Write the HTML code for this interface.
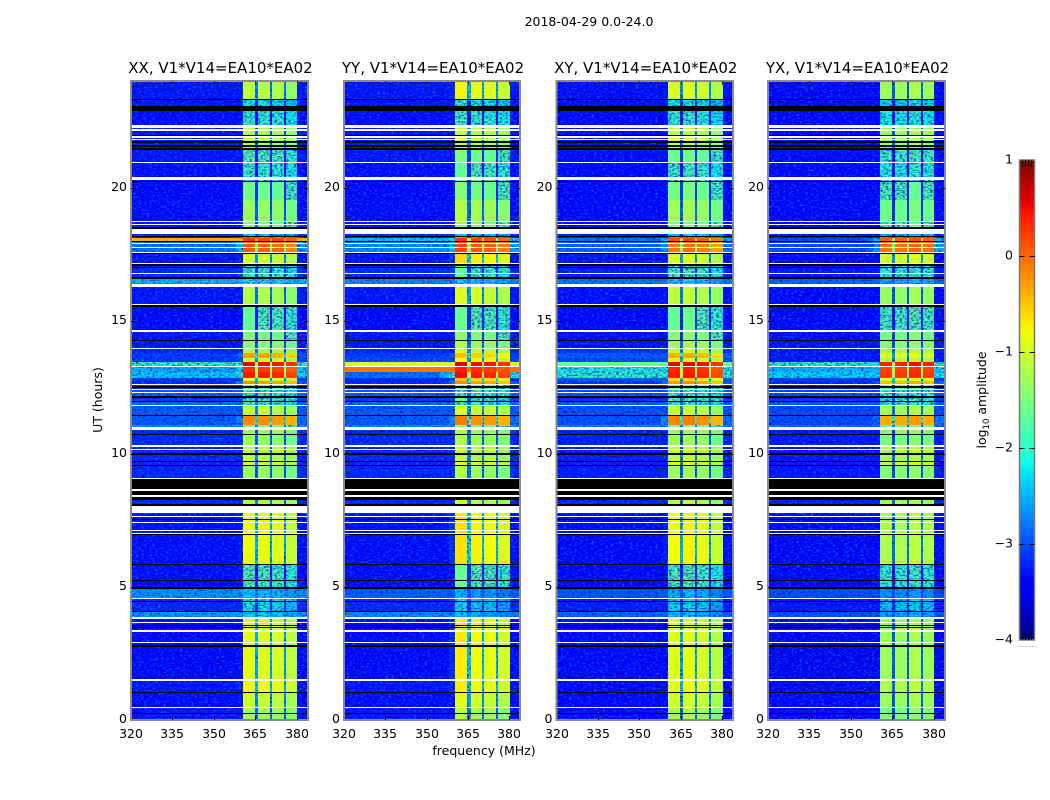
<!DOCTYPE html>
<html>
<head>
<meta charset="utf-8">
<title>2018-04-29 0.0-24.0</title>
<style>
html,body{margin:0;padding:0;background:#fff;}
svg{display:block;}
text{font-family:"DejaVu Sans","Liberation Sans",sans-serif;fill:#000;}
</style>
</head>
<body>
<svg id="figure" xmlns="http://www.w3.org/2000/svg" width="1050" height="800" viewBox="0 0 1050 800">
  <defs>
    <filter id="speckle-light" x="0" y="0" width="1" height="1" color-interpolation-filters="sRGB">
      <feTurbulence type="fractalNoise" baseFrequency="0.36 0.6" numOctaves="1" seed="4"/>
      <feColorMatrix type="matrix" values="0 0 0 0 0  0 0 0 0 0.5  0 0 0 0 1  3.4 0 0 0 -1.6"/>
    </filter>
    <filter id="speckle-dark" x="0" y="0" width="1" height="1" color-interpolation-filters="sRGB">
      <feTurbulence type="fractalNoise" baseFrequency="0.36 0.6" numOctaves="1" seed="11"/>
      <feColorMatrix type="matrix" values="0 0 0 0 0  0 0 0 0 0  0 0 0 0 0.72  0 3.4 0 0 -1.6"/>
    </filter>
  </defs>
  <text x="589" y="26" text-anchor="middle" font-size="12.5">2018-04-29 0.0-24.0</text>
  <text x="484" y="755" text-anchor="middle" font-size="12.5">frequency (MHz)</text>
  <text transform="translate(102 400) rotate(-90)" text-anchor="middle" font-size="12.5">UT (hours)</text>
  <text transform="translate(986 400) rotate(-90)" text-anchor="middle" font-size="12.5">log<tspan font-size="8.5" dy="3">10</tspan><tspan dy="-3"> amplitude</tspan></text>
  <g id="panels"></g>
  <g id="colorbar"></g>
</svg>
<script>
// Time segments (start hour of each segment, from the top of the plot downward)
const segmentTopHour = [24.00,23.29,22.87,22.35,21.41,20.92,20.24,19.53,18.70,18.25,18.10,17.99,17.54,17.09,16.56,16.26,15.59,14.61,14.23,13.93,13.78,13.60,13.45,13.30,13.07,12.85,12.73,12.62,12.43,12.13,11.94,11.79,11.46,11.08,10.97,10.29,9.73,9.58,9.09,8.11,7.74,5.82,5.26,4.96,4.58,4.06,3.79,1.50,1.05,0.45];
// log10 amplitude inside the receiver band for each segment
const inBandXX = [-1.2,-2.2,-2.0,-1.25,-1.8,-1.95,-1.65,-1.4,-1.6,-2.3,0.2,0,-1.05,-1.85,-2.25,-1.25,-1.75,-1.6,-1.5,-1.3,-0.4,-1.1,0.45,0.2,0.35,-0.95,-0.3,-1.6,-1.9,-1.8,-1.9,-1.15,-0.25,-1.6,-1.4,-1.2,-1.1,-1.4,-1.2,-1.0,-0.9,-1.8,-1.85,-2.4,-2.2,-2.3,-0.95,-0.85,-1.1,-1.35];
const inBandYY = [-0.85,-2.1,-1.9,-1.1,-1.6,-1.75,-1.55,-1.25,-1.5,-2.3,0.2,0.1,-0.7,-1.75,-2.3,-1.0,-1.7,-1.5,-1.3,-1.1,-0.55,-0.9,0.5,0.3,0.4,-0.6,-0.3,-1.5,-1.8,-1.75,-1.85,-1.0,-0.2,-1.5,-1.3,-1.15,-1.0,-1.3,-1.1,-0.9,-0.75,-1.7,-1.7,-2.5,-2.3,-2.4,-0.8,-0.8,-1.0,-1.25];
const inBandXY = [-1.0,-2.2,-2.0,-1.15,-1.65,-1.9,-1.6,-1.35,-1.6,-2.3,0.1,-0.1,-1.0,-1.8,-2.3,-1.15,-1.7,-1.5,-1.3,-1.1,-0.45,-1.0,0.5,0.3,0.35,-0.7,-0.3,-1.6,-1.9,-1.8,-1.9,-1.1,-0.2,-1.6,-1.35,-1.15,-1.05,-1.35,-1.15,-1.0,-0.85,-1.8,-1.8,-2.45,-2.3,-2.4,-0.95,-0.9,-1.05,-1.3];
const inBandYX = [-1.25,-2.2,-2.05,-1.25,-1.8,-1.95,-1.7,-1.55,-1.7,-2.4,0.1,0,-0.95,-1.85,-2.4,-1.3,-1.75,-1.5,-1.4,-1.2,-0.9,-1.2,0.45,0.25,0.3,-0.8,-0.4,-1.6,-1.9,-1.85,-1.95,-1.2,-0.3,-1.6,-1.45,-1.2,-1.1,-1.4,-1.2,-1.05,-1.15,-1.9,-1.9,-2.55,-2.3,-2.45,-1.25,-1.15,-1.25,-1.45];
// log10 amplitude outside the receiver band for each segment
const offBandXX = [-3.3,-3.3,-3.35,-3.3,-3.3,-3.35,-3.4,-3.35,-3.3,-3.2,-0.35,-2.75,-3.3,-3.2,-2.4,-3.3,-3.4,-3.3,-3.3,-3.2,-3.1,-3.1,-1.85,-2.45,-2.3,-3.1,-3.2,-3.2,-2.9,-3.1,-2.8,-2.9,-2.9,-2.6,-3.2,-3.2,-3.2,-3.2,-3.2,-3.2,-3.35,-3.35,-3.4,-2.6,-3.2,-2.55,-3.4,-3.3,-3.35,-3.3];
const offBandYY = [-3.3,-3.3,-3.35,-3.3,-3.3,-3.35,-3.4,-3.35,-3.3,-3.2,-2.3,-2.6,-3.3,-3.2,-2.65,-3.3,-3.4,-3.3,-3.3,-3.2,-3.1,-3.0,-0.95,-0.05,-2.8,-3.2,-3.2,-3.2,-2.9,-3.1,-2.8,-2.9,-2.9,-2.6,-3.2,-3.2,-3.2,-3.2,-3.2,-3.2,-3.35,-3.35,-3.4,-2.9,-3.2,-2.65,-3.4,-3.3,-3.35,-3.3];
const offBandXY = [-3.35,-3.35,-3.4,-3.35,-3.35,-3.4,-3.45,-3.4,-3.35,-3.25,-2.75,-2.85,-3.3,-3.25,-2.75,-3.35,-3.4,-3.35,-3.3,-3.1,-2.9,-3.0,-1.6,-2.1,-1.95,-2.9,-3.1,-3.2,-2.95,-3.15,-2.85,-2.95,-2.95,-2.7,-3.25,-3.25,-3.25,-3.25,-3.2,-3.25,-3.4,-3.4,-3.45,-2.95,-3.25,-2.85,-3.45,-3.4,-3.4,-3.35];
const offBandYX = [-3.4,-3.4,-3.4,-3.4,-3.4,-3.4,-3.45,-3.4,-3.4,-3.3,-3.0,-3.0,-3.35,-3.3,-2.85,-3.4,-3.45,-3.35,-3.3,-3.3,-3.3,-3.3,-1.9,-2.4,-2.25,-3.1,-3.2,-3.25,-3.0,-3.15,-2.9,-3.0,-3.0,-2.8,-3.3,-3.3,-3.3,-3.3,-3.25,-3.3,-3.45,-3.45,-3.5,-3.0,-3.3,-2.95,-3.5,-3.45,-3.45,-3.4];
// Flagged (blanked) time ranges
const flagStartHour = [23.32,23.06,22.35,22.20,21.97,21.92,21.82,21.73,21.58,21.48,20.96,20.39,20.24,18.74,18.63,18.52,18.44,18.18,17.99,17.92,17.78,17.58,17.54,17.16,17.11,17.01,16.79,16.64,16.38,15.62,15.59,14.65,14.29,13.97,13.30,12.62,12.56,12.43,12.32,12.17,11.98,11.83,11.46,11.00,10.74,10.33,10.18,10.01,9.73,9.58,9.09,9.05,8.68,8.60,8.45,8.38,8.11,8.04,7.66,7.55,7.44,7.15,7.02,6.97,5.86,5.26,5.00,4.58,4.47,4.09,3.85,3.68,3.57,3.49,3.38,2.93,2.80,1.54,1.05,0.49,0.26];
const flagEndHour   = [23.29,22.87,22.25,22.12,21.93,21.86,21.78,21.67,21.52,21.41,20.92,20.28,20.21,18.70,18.59,18.44,18.25,18.14,17.95,17.86,17.73,17.54,17.50,17.11,17.05,16.98,16.75,16.56,16.26,15.59,15.51,14.59,14.22,13.93,13.26,12.58,12.47,12.38,12.28,12.09,11.94,11.79,11.42,10.89,10.70,10.27,10.14,9.95,9.69,9.54,9.05,8.68,8.60,8.45,8.38,8.26,8.04,7.77,7.61,7.51,7.40,7.10,6.99,6.93,5.82,5.22,4.92,4.54,4.43,4.06,3.79,3.64,3.53,3.46,3.31,2.89,2.74,1.46,1.01,0.45,0.21];
const flagKind = ['k','k','w','w','k','w','w','k','k','k','w','w','k','w','w','k','w','k','k','w','w','w','k','w','k','k','w','k','w','w','k','w','k','w','w','w','k','w','w','k','k','w','k','w','k','w','w','k','k','k','w','k','w','k','w','k','k','w','w','k','w','w','w','k','k','k','k','w','k','k','w','w','k','k','w','w','k','w','k','w','k'];
// Spectral layout of the correlator band
const channelEdgeMHz = [320,350,355,358,360.5,364.8,366,370.1,371,375.2,376.1,380.2,384];
const channelSubband = [0,0,0,0,0,0,1,1,2,2,3,3];
const channelDrop = [99,3.3,2.9,2.5,0,1.6,0,1.6,0,1.6,0,2.4];
// Per-panel sub-band gains (log10)
const gainXX = [0.1,0.05,0,-0.15];
const gainYY = [0.1,0,-0.05,-0.2];
const gainXY = [0.05,0.1,0,-0.2];
const gainYX = [-0.05,-0.05,0.05,-0.05];
// Panel titles and ticks
const panelNames = ['XX','YY','XY','YX'];
const panelTitles = ['XX, V1*V14=EA10*EA02','YY, V1*V14=EA10*EA02','XY, V1*V14=EA10*EA02','YX, V1*V14=EA10*EA02'];
const panelLeft = [131,344,556.5,768];
const panelRight = [308,520,733,945];
const xTickValues = [320,335,350,365,380];
const yTickValues = [0,5,10,15,20];
const colorbarTicks = [1,0,-1,-2,-3,-4];
// Jet colormap control points
const jetRedPos = [0,0.35,0.66,0.89,1];
const jetRedVal = [0,0,1,1,0.5];
const jetGreenPos = [0,0.125,0.375,0.64,0.91,1];
const jetGreenVal = [0,0,1,1,0,0];
const jetBluePos = [0,0.11,0.34,0.65,1];
const jetBlueVal = [0.5,1,1,0,0];

const inBandByPanel = [inBandXX,inBandYY,inBandXY,inBandYX];
const offBandByPanel = [offBandXX,offBandYY,offBandXY,offBandYX];
const gainByPanel = [gainXX,gainYY,gainXY,gainYX];

const NS = 'http://www.w3.org/2000/svg';
const plotTop = 81, plotBottom = 720;
const cbLeft = 1019.5, cbRight = 1034.5, cbTop = 160, cbBottom = 640;
const vMin = -4, vMax = 1;
const speckleCeiling = -1.7;

function yOfHour(h){ return Math.round(plotBottom - h / 24 * (plotBottom - plotTop)); }
function xOfMHz(f, p){ return Math.round(panelLeft[p] + (f - 320) / 64 * (panelRight[p] - panelLeft[p])); }
function yOfLevel(v){ return cbBottom - (v - vMin) / (vMax - vMin) * (cbBottom - cbTop); }
function interp(t, pos, val){
  for (let i = 1; i < pos.length; i++) {
    if (t <= pos[i]) return val[i-1] + (val[i]-val[i-1]) * (t-pos[i-1]) / (pos[i]-pos[i-1]);
  }
  return val[val.length-1];
}
function jet(v){
  const t = Math.min(1, Math.max(0, (v - vMin) / (vMax - vMin)));
  const r = Math.round(255 * interp(t, jetRedPos, jetRedVal));
  const g = Math.round(255 * interp(t, jetGreenPos, jetGreenVal));
  const b = Math.round(255 * interp(t, jetBluePos, jetBlueVal));
  return 'rgb(' + r + ',' + g + ',' + b + ')';
}
function make(tag, parent, attrs){
  const el = document.createElementNS(NS, tag);
  for (const k in attrs) el.setAttribute(k, attrs[k]);
  parent.appendChild(el);
  return el;
}
function drawTick(parent, x1, y1, x2, y2, color){
  const el = make('line', parent, {x1:x1, y1:y1, x2:x2, y2:y2, stroke:color, 'stroke-width':1, 'shape-rendering':'crispEdges'});
  
  
}
function drawCells(parent, p, speckled){
  segmentTopHour.forEach(function(topHour, s){
    const bottomHour = s + 1 < segmentTopHour.length ? segmentTopHour[s+1] : 0;
    const y0 = yOfHour(topHour), y1 = yOfHour(bottomHour);
    for (let c = 0; c < channelDrop.length; c++) {
      const x0 = xOfMHz(channelEdgeMHz[c], p), x1 = xOfMHz(channelEdgeMHz[c+1], p);
      const level = Math.max(offBandByPanel[p][s], inBandByPanel[p][s] + gainByPanel[p][channelSubband[c]] - channelDrop[c]);
      if ((level <= speckleCeiling) !== speckled) continue;
      const cell = make('rect', parent, {x:x0, y:y0, width:x1-x0, height:y1-y0, fill:jet(level)});
      
      
    }
  });
}

const panelsRoot = document.getElementById('panels');
panelNames.forEach(function(name, p){
  const group = make('g', panelsRoot, {});
  
  

  // low-amplitude heatmap cells sit beneath the noise texture
  const lowCells = make('g', group, {'shape-rendering':'crispEdges'});
  
  
  drawCells(lowCells, p, true);

  const light = make('rect', group, {x:panelLeft[p], y:plotTop, width:panelRight[p]-panelLeft[p], height:plotBottom-plotTop, filter:'url(#speckle-light)', opacity:0.75});
  
  
  const dark = make('rect', group, {x:panelLeft[p], y:plotTop, width:panelRight[p]-panelLeft[p], height:plotBottom-plotTop, filter:'url(#speckle-dark)', opacity:0.75});
  
  

  // bright heatmap cells are smooth and sit on top of the texture
  const highCells = make('g', group, {'shape-rendering':'crispEdges'});
  
  
  drawCells(highCells, p, false);

  // flagged rows
  const flags = make('g', group, {'shape-rendering':'crispEdges'});
  
  
  flagKind.forEach(function(kind, i){
    const y0 = yOfHour(flagStartHour[i]);
    const y1 = Math.max(y0 + 1, yOfHour(flagEndHour[i]));
    const row = make('rect', flags, {x:panelLeft[p], y:y0, width:panelRight[p]-panelLeft[p], height:y1-y0, fill: kind === 'w' ? '#ffffff' : '#000000'});
    
    
  });

  // frame
  const frame = make('rect', group, {x:panelLeft[p], y:plotTop, width:panelRight[p]-panelLeft[p], height:plotBottom-plotTop, fill:'none', stroke:'#8a8a8a', 'stroke-width':2});
  
  

  // x ticks
  xTickValues.forEach(function(v){
    const px = xOfMHz(v, p) + 0.5;
    if (v !== 320) {
      drawTick(group, px, plotBottom, px, plotBottom - 4, '#000');
      drawTick(group, px, plotTop, px, plotTop + 4, '#333');
    }
    const label = make('text', group, {x:xOfMHz(v, p), y:plotBottom + 18, 'text-anchor':'middle', 'font-size':12.5});
    label.textContent = String(v);
    
    
  });

  // y ticks
  yTickValues.forEach(function(v){
    const py = yOfHour(v) + 0.5;
    if (v !== 0) {
      drawTick(group, panelLeft[p], py, panelLeft[p] + 4, py, '#000');
      drawTick(group, panelRight[p], py, panelRight[p] - 4, py, '#000');
    }
    const label = make('text', group, {x:panelLeft[p] - 4, y:yOfHour(v) + 2.8, 'text-anchor':'end', 'font-size':12.5});
    label.textContent = String(v);
    
    
  });

  // panel title
  const title = make('text', group, {x:(panelLeft[p] + panelRight[p]) / 2 + 1, y:73, 'text-anchor':'middle', 'font-size':15});
  title.textContent = panelTitles[p];
  
  
});

// colorbar
const cbRoot = document.getElementById('colorbar');
const cbSteps = 240;
for (let i = 0; i < cbSteps; i++) {
  const level = vMin + (vMax - vMin) * (i + 0.5) / cbSteps;
  const yTop = yOfLevel(vMin + (vMax - vMin) * (i + 1) / cbSteps);
  const step = make('rect', cbRoot, {x:cbLeft, y:yTop, width:cbRight-cbLeft, height:(cbBottom-cbTop)/cbSteps + 0.5, fill:jet(level), 'shape-rendering':'crispEdges'});
  
  
}
const cbFrame = make('rect', cbRoot, {x:cbLeft, y:cbTop, width:cbRight-cbLeft, height:cbBottom-cbTop, fill:'none', stroke:'#777', 'stroke-width':1.5});


colorbarTicks.forEach(function(v){
  const py = Math.round(yOfLevel(v)) + 0.5;
  const label = make('text', cbRoot, {x:1013, y:yOfLevel(v) + 3.5, 'text-anchor':'end', 'font-size':12.5});
  label.textContent = v < 0 ? '\u2212' + Math.abs(v) : String(v);
  
  
  if (v !== 1 && v !== -4) {
    drawTick(cbRoot, cbLeft, py, cbLeft + 5, py, '#000');
    drawTick(cbRoot, cbRight, py, cbRight - 5, py, '#000');
  }
});
[1022.5,1025.5,1028.5,1031.5].forEach(function(px){
  drawTick(cbRoot, px, cbTop, px, cbTop + 7, '#000');
  drawTick(cbRoot, px, cbBottom, px, cbBottom - 7, '#000');
});
for (let i = 0; i < 7; i++) {
  const dot = make('rect', cbRoot, {x:1017.5 + i * 2.9, y:646, width:1, height:1, fill:'#999'});
  
  
}
</script>
</body>
</html>
